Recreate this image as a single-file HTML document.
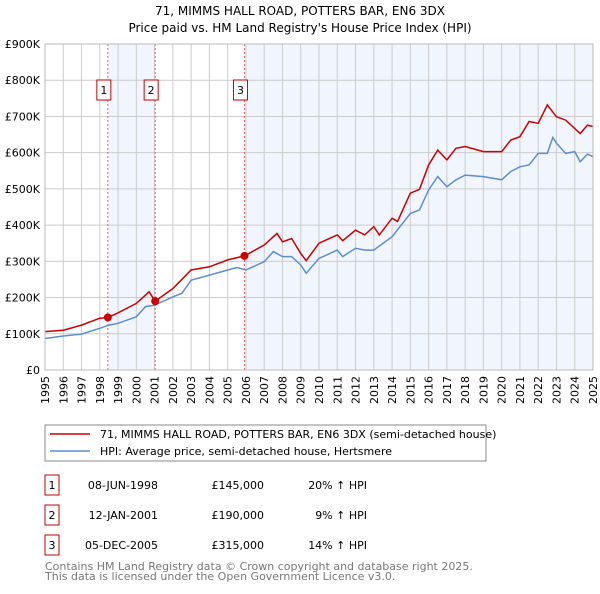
<!DOCTYPE html>
<html><head><meta charset="utf-8"><style>
body{margin:0;background:#fff;font-family:"DejaVu Sans","Liberation Sans",sans-serif}
svg text{font-family:"DejaVu Sans","Liberation Sans",sans-serif}
</style></head><body>
<svg id="c" width="600" height="590" viewBox="0 0 600 590">
<text x="300" y="15" text-anchor="middle" font-size="12">71, MIMMS HALL ROAD, POTTERS BAR, EN6 3DX</text>
<text x="300" y="32" text-anchor="middle" font-size="12">Price paid vs. HM Land Registry's House Price Index (HPI)</text>
<g id="plot"></g>
<rect x="45" y="425" width="441" height="36" fill="#fff" stroke="#888"/>
<line x1="50" y1="434" x2="90" y2="434" stroke="#cc0000" stroke-width="1.5"/>
<text x="100" y="438" font-size="11">71, MIMMS HALL ROAD, POTTERS BAR, EN6 3DX (semi-detached house)</text>
<line x1="50" y1="451" x2="90" y2="451" stroke="#5b8fd4" stroke-width="1.5"/>
<text x="100" y="455" font-size="11">HPI: Average price, semi-detached house, Hertsmere</text>
<g id="tbl" font-size="11"></g>
<text x="45" y="570" font-size="11" fill="#777">Contains HM Land Registry data © Crown copyright and database right 2025.</text>
<text x="45" y="580" font-size="11" fill="#777">This data is licensed under the Open Government Licence v3.0.</text>
</svg>
<script>
const hpiYears=[1995,1996,1997,1998,1998.5,1999,2000,2000.5,2001,2002,2002.5,2003,2004,2005,2005.5,2006,2007,2007.5,2008,2008.5,2009,2009.3,2010,2011,2011.3,2012,2012.5,2013,2014,2015,2015.5,2016,2016.5,2017,2017.5,2018,2019,2020,2020.5,2021,2021.5,2022,2022.5,2022.8,2023,2023.5,2024,2024.3,2024.7,2025];
const hpiValues=[87,94,99,115,124,129,147,175,179,202,212,248,262,276,283,276,299,327,313,313,290,267,308,331,313,336,331,331,368,432,442,497,534,506,525,538,534,525,548,561,566,598,598,642,626,598,603,575,596,589];
const redYears=[1995,1996,1997,1998,1998.44,1999,2000,2000.7,2001.03,2002,2003,2004,2005,2005.92,2007,2007.7,2008,2008.5,2009,2009.3,2010,2011,2011.3,2012,2012.5,2013,2013.3,2014,2014.3,2015,2015.5,2016,2016.5,2017,2017.5,2018,2019,2020,2020.5,2021,2021.5,2022,2022.5,2023,2023.5,2024,2024.3,2024.7,2025];
const redValues=[106,110,124,143,145,158,184,216,190,225,276,285,304,315,345,377,354,363,322,302,350,373,357,386,373,396,373,419,410,488,499,566,607,580,612,617,603,603,635,644,686,681,732,699,690,667,653,676,672];
const saleYears=[1998.44,2001.03,2005.92];
const saleValues=[145,190,315];
const saleLabels=["1","2","3"];
const saleDates=["08-JUN-1998","12-JAN-2001","05-DEC-2005"];
const salePrices=["£145,000","£190,000","£315,000"];
const saleDiffs=["20% ↑ HPI","9% ↑ HPI","14% ↑ HPI"];
const yTicks=[0,100,200,300,400,500,600,700,800,900];
const yTickLabels=["£0","£100K","£200K","£300K","£400K","£500K","£600K","£700K","£800K","£900K"];
const xTicks=[];for(let y=1995;y<=2025;y++)xTicks.push(y);

const X0=45,X1=593,Y0=370,Y1=44;
const xs=y=>X0+(y-1995)/30*(X1-X0);
const ys=v=>Y0-v/900*(Y0-Y1);
const NS="http://www.w3.org/2000/svg";
const plot=document.getElementById('plot');
function mk(t,a,p){const e=document.createElementNS(NS,t);for(const k in a)e.setAttribute(k,a[k]);(p||plot).appendChild(e);return e;}
let e;
e=mk('rect',{x:X0,y:Y1,width:X1-X0,height:Y0-Y1,fill:'#fff'});


e=mk('rect',{x:xs(saleYears[0]),y:Y1,width:xs(saleYears[1])-xs(saleYears[0]),height:Y0-Y1,fill:'#f1f5fd'});


e=mk('rect',{x:xs(saleYears[2]),y:Y1,width:X1-xs(saleYears[2]),height:Y0-Y1,fill:'#f1f5fd'});


xTicks.forEach(y=>{
 e=mk('line',{x1:xs(y),x2:xs(y),y1:Y1,y2:Y0,stroke:'#cccccc','stroke-width':1});
 
 
 e=mk('text',{x:0,y:0,'font-size':11,'text-anchor':'end',transform:`translate(${xs(y)+4},${Y0+6}) rotate(-90)`});
 e.textContent=y;
 
 
});
yTicks.forEach((v,i)=>{
 e=mk('line',{x1:X0,x2:X1,y1:ys(v),y2:ys(v),stroke:'#cccccc','stroke-width':1});
 
 
 e=mk('text',{x:X0-5,y:ys(v)+4,'font-size':11,'text-anchor':'end'});
 e.textContent=yTickLabels[i];
 
 
});
saleYears.forEach((y,i)=>{
 e=mk('line',{x1:xs(y),x2:xs(y),y1:Y1,y2:Y0,stroke:'#e06060','stroke-width':1,'stroke-dasharray':'2,2'});
 
 
 e=mk('rect',{x:xs(y)-11,y:80,width:14,height:20,fill:'#fff',stroke:'#cc0000'});
 
 
 e=mk('text',{x:xs(y)-4,y:94,'font-size':11,'text-anchor':'middle'});
 e.textContent=saleLabels[i];
 
 
});
const path=(xa,va)=>xa.map((y,i)=>(i?'L':'M')+xs(y).toFixed(1)+','+ys(va[i]).toFixed(1)).join('');
e=mk('path',{d:path(hpiYears,hpiValues),fill:'none',stroke:'#5b8fd4','stroke-width':1.5});


e=mk('path',{d:path(redYears,redValues),fill:'none',stroke:'#cc0000','stroke-width':1.5});


saleYears.forEach((y,i)=>{
 e=mk('circle',{cx:xs(y),cy:ys(saleValues[i]),r:4,fill:'#cc0000'});
 
 
});
e=mk('rect',{x:X0,y:Y1,width:X1-X0,height:Y0-Y1,fill:'none',stroke:'#bbb'});


const tbl=document.getElementById('tbl');
const rowY=[485,515,545];
saleLabels.forEach((l,i)=>{
 const cy=rowY[i];
 e=mk('rect',{x:45,y:cy-10,width:14,height:20,fill:'#fff',stroke:'#cc0000'},tbl);
 
 
 e=mk('text',{x:52,y:cy+4,'text-anchor':'middle'},tbl);e.textContent=l;
 
 
 e=mk('text',{x:158,y:cy+4,'text-anchor':'end'},tbl);e.textContent=saleDates[i];
 
 
 e=mk('text',{x:264,y:cy+4,'text-anchor':'end'},tbl);e.textContent=salePrices[i];
 
 
 e=mk('text',{x:367,y:cy+4,'text-anchor':'end'},tbl);e.textContent=saleDiffs[i];
 
 
});
</script>
</body></html>
